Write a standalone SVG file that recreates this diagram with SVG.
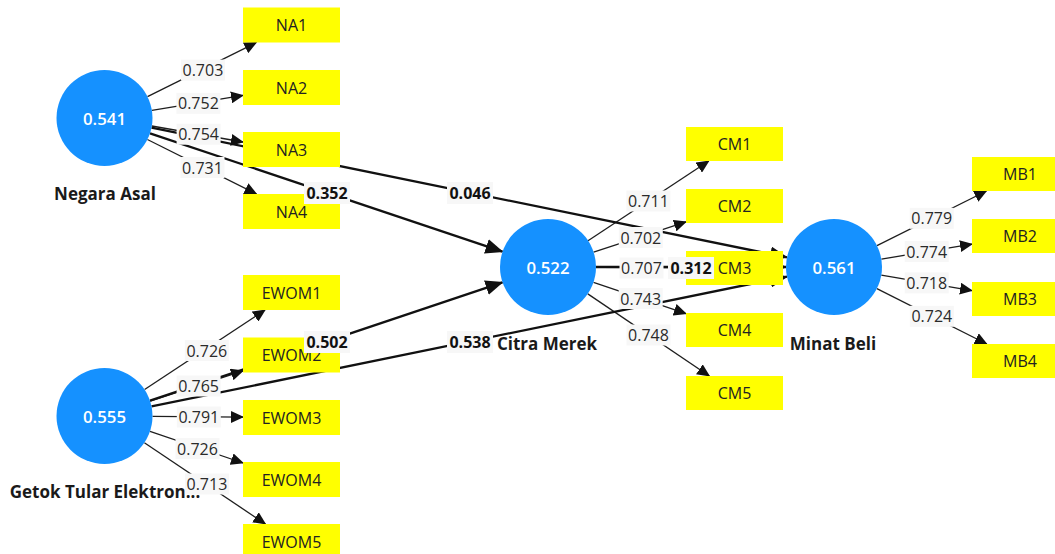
<svg xmlns="http://www.w3.org/2000/svg" width="1055" height="554" viewBox="0 0 1055 554">
<defs>
<style>
.ln{stroke:#1e1e1e;stroke-width:1.3;fill:none;marker-end:url(#ah)}
.pl{stroke:#111;stroke-width:2.3;fill:none;marker-end:url(#ahb)}
.lat{fill:#1591ff}
.latv{fill:#fff;font-family:"Open Sans","Noto Sans",sans-serif;font-size:16.8px;font-weight:600;text-anchor:middle;dominant-baseline:central}
.latn{fill:#1a1a1a;font-family:"Open Sans","Noto Sans",sans-serif;font-size:17px;font-weight:700;text-anchor:middle}
.box{fill:#ffff00}
.boxt{fill:#222;font-family:"Open Sans","Noto Sans",sans-serif;font-size:16px;text-anchor:middle;dominant-baseline:central}
.lb{fill:#f7f7f7}
.lt{fill:#2a2a2a;font-family:"Open Sans","Noto Sans",sans-serif;font-size:16px;text-anchor:middle;dominant-baseline:central}
.pt{fill:#111;font-family:"Open Sans","Noto Sans",sans-serif;font-size:16px;font-weight:700;text-anchor:middle;dominant-baseline:central}
</style>
<marker id="ah" markerUnits="userSpaceOnUse" viewBox="0 0 13 12" markerWidth="13" markerHeight="12" refX="12" refY="6" orient="auto"><path d="M0,0 L13,6 L0,12 z" fill="#111"/></marker>
<marker id="ahb" markerUnits="userSpaceOnUse" viewBox="0 0 18 15" markerWidth="18" markerHeight="15" refX="17" refY="7.5" orient="auto"><path d="M0,0 L18,7.5 L0,15 z" fill="#111"/></marker>
</defs>
<rect width="1055" height="554" fill="#fff"/>
<g id="connectors">
<line class="ln" x1="147.5" y1="96.6" x2="256.3" y2="42.5"/>
<line class="ln" x1="151.9" y1="110.3" x2="243" y2="95.4"/>
<line class="ln" x1="151.8" y1="126" x2="243" y2="142"/>
<line class="ln" x1="147.4" y1="139.5" x2="256.5" y2="194"/>
<line class="ln" x1="144.6" y1="389.5" x2="265" y2="310"/>
<line class="ln" x1="150.1" y1="401.1" x2="243" y2="370.8"/>
<line class="ln" x1="152.5" y1="416.4" x2="243" y2="417.1"/>
<line class="ln" x1="150" y1="431.4" x2="243" y2="463"/>
<line class="ln" x1="144.4" y1="442.8" x2="265.4" y2="524"/>
<line class="ln" x1="588" y1="240.8" x2="708.7" y2="161"/>
<line class="ln" x1="593.6" y1="252.1" x2="686" y2="221.9"/>
<line class="ln" x1="596" y1="267.3" x2="686" y2="267.7"/>
<line class="ln" x1="593.5" y1="282.4" x2="686" y2="313.6"/>
<line class="ln" x1="587.8" y1="293.9" x2="709.3" y2="376"/>
<line class="ln" x1="877" y1="245.6" x2="986.4" y2="191"/>
<line class="ln" x1="881.4" y1="259.1" x2="972" y2="244.1"/>
<line class="ln" x1="881.3" y1="275.1" x2="972" y2="290.7"/>
<line class="ln" x1="876.9" y1="288.6" x2="986.8" y2="344"/>
<line class="pl" x1="150" y1="133.3" x2="502.5" y2="251.7"/>
<line class="pl" x1="151.5" y1="127.6" x2="787" y2="257.4"/>
<line class="pl" x1="150" y1="400.7" x2="502.5" y2="282.3"/>
<line class="pl" x1="151.5" y1="406.4" x2="787" y2="276.6"/>
<line class="pl" x1="596" y1="267" x2="786" y2="267"/>
</g>
<g id="negara-asal"><circle class="lat" cx="104.5" cy="118" r="48"/><text class="latv" x="104.5" y="118">0.541</text><text class="latn" x="105" y="200">Negara Asal</text></g>
<g id="getok-tular"><circle class="lat" cx="104.5" cy="416" r="48"/><text class="latv" x="104.5" y="416">0.555</text><text class="latn" x="105" y="498">Getok Tular Elektron...</text></g>
<g id="citra-merek"><circle class="lat" cx="548" cy="267" r="48"/><text class="latv" x="548" y="267">0.522</text><text class="latn" x="547" y="350">Citra Merek</text></g>
<g id="minat-beli"><circle class="lat" cx="834" cy="267" r="48"/><text class="latv" x="834" y="267">0.561</text><text class="latn" x="833" y="350">Minat Beli</text></g>
<g id="NA1"><rect class="box" x="243" y="7.5" width="97" height="35"/><text class="boxt" x="291.5" y="25">NA1</text></g>
<g id="NA2"><rect class="box" x="243" y="70" width="97" height="35"/><text class="boxt" x="291.5" y="87.5">NA2</text></g>
<g id="NA3"><rect class="box" x="243" y="132" width="97" height="35"/><text class="boxt" x="291.5" y="149.5">NA3</text></g>
<g id="NA4"><rect class="box" x="243" y="194" width="97" height="35"/><text class="boxt" x="291.5" y="211.5">NA4</text></g>
<g id="EWOM1"><rect class="box" x="243" y="275" width="97" height="35"/><text class="boxt" x="291.5" y="292.5">EWOM1</text></g>
<g id="EWOM2"><rect class="box" x="243" y="337.5" width="97" height="35"/><text class="boxt" x="291.5" y="355">EWOM2</text></g>
<g id="EWOM3"><rect class="box" x="243" y="400" width="97" height="35"/><text class="boxt" x="291.5" y="417.5">EWOM3</text></g>
<g id="EWOM4"><rect class="box" x="243" y="462" width="97" height="35"/><text class="boxt" x="291.5" y="479.5">EWOM4</text></g>
<g id="EWOM5"><rect class="box" x="243" y="524" width="97" height="35"/><text class="boxt" x="291.5" y="541.5">EWOM5</text></g>
<g id="CM1"><rect class="box" x="686" y="127" width="97" height="34"/><text class="boxt" x="734.5" y="144">CM1</text></g>
<g id="CM2"><rect class="box" x="686" y="189" width="97" height="34"/><text class="boxt" x="734.5" y="206">CM2</text></g>
<g id="CM3"><rect class="box" x="686" y="251" width="97" height="34"/><text class="boxt" x="734.5" y="268">CM3</text></g>
<g id="CM4"><rect class="box" x="686" y="313" width="97" height="34"/><text class="boxt" x="734.5" y="330">CM4</text></g>
<g id="CM5"><rect class="box" x="686" y="376" width="97" height="34"/><text class="boxt" x="734.5" y="393">CM5</text></g>
<g id="MB1"><rect class="box" x="972" y="157" width="97" height="34"/><text class="boxt" x="1020" y="174">MB1</text></g>
<g id="MB2"><rect class="box" x="972" y="219" width="97" height="34"/><text class="boxt" x="1020" y="236">MB2</text></g>
<g id="MB3"><rect class="box" x="972" y="282" width="97" height="34"/><text class="boxt" x="1020" y="299">MB3</text></g>
<g id="MB4"><rect class="box" x="972" y="344" width="97" height="34"/><text class="boxt" x="1020" y="361">MB4</text></g>
<g id="connector-labels">
<rect class="lb" x="180.9" y="59.6" width="44" height="21"/><text class="lt" x="202.9" y="70.1">0.703</text>
<rect class="lb" x="176.4" y="92.8" width="44" height="21"/><text class="lt" x="198.4" y="103.3">0.752</text>
<rect class="lb" x="176.6" y="123.7" width="44" height="21"/><text class="lt" x="198.6" y="134.2">0.754</text>
<rect class="lb" x="180.5" y="157" width="44" height="21"/><text class="lt" x="202.5" y="167.5">0.731</text>
<rect class="lb" x="184.8" y="340" width="44" height="21"/><text class="lt" x="206.8" y="350.5">0.726</text>
<rect class="lb" x="176.6" y="375.5" width="44" height="21"/><text class="lt" x="198.6" y="386">0.765</text>
<rect class="lb" x="176.8" y="406.5" width="44" height="21"/><text class="lt" x="198.8" y="417">0.791</text>
<rect class="lb" x="175.5" y="438" width="44" height="21"/><text class="lt" x="197.5" y="448.5">0.726</text>
<rect class="lb" x="184.9" y="473.5" width="44" height="21"/><text class="lt" x="206.9" y="484">0.713</text>
<rect class="lb" x="626.4" y="190.5" width="44" height="21"/><text class="lt" x="648.4" y="201">0.711</text>
<rect class="lb" x="618.8" y="227" width="44" height="21"/><text class="lt" x="640.8" y="237.5">0.702</text>
<rect class="lb" x="619.5" y="257.5" width="44" height="21"/><text class="lt" x="641.5" y="268">0.707</text>
<rect class="lb" x="618.7" y="288" width="44" height="21"/><text class="lt" x="640.7" y="298.5">0.743</text>
<rect class="lb" x="626.5" y="324.5" width="44" height="21"/><text class="lt" x="648.5" y="335">0.748</text>
<rect class="lb" x="909.7" y="207.8" width="44" height="21"/><text class="lt" x="931.7" y="218.3">0.779</text>
<rect class="lb" x="904.7" y="241.1" width="44" height="21"/><text class="lt" x="926.7" y="251.6">0.774</text>
<rect class="lb" x="904.7" y="272.4" width="44" height="21"/><text class="lt" x="926.7" y="282.9">0.718</text>
<rect class="lb" x="909.8" y="305.8" width="44" height="21"/><text class="lt" x="931.8" y="316.3">0.724</text>
<rect class="lb" x="304" y="182" width="46" height="22"/><text class="pt" x="327" y="193">0.352</text>
<rect class="lb" x="447" y="182" width="46" height="22"/><text class="pt" x="470" y="193">0.046</text>
<rect class="lb" x="304" y="331" width="46" height="22"/><text class="pt" x="327" y="342">0.502</text>
<rect class="lb" x="447" y="331" width="46" height="22"/><text class="pt" x="470" y="342">0.538</text>
<rect class="lb" x="668" y="257" width="46" height="22"/><text class="pt" x="691" y="268">0.312</text>
</g>
</svg>
